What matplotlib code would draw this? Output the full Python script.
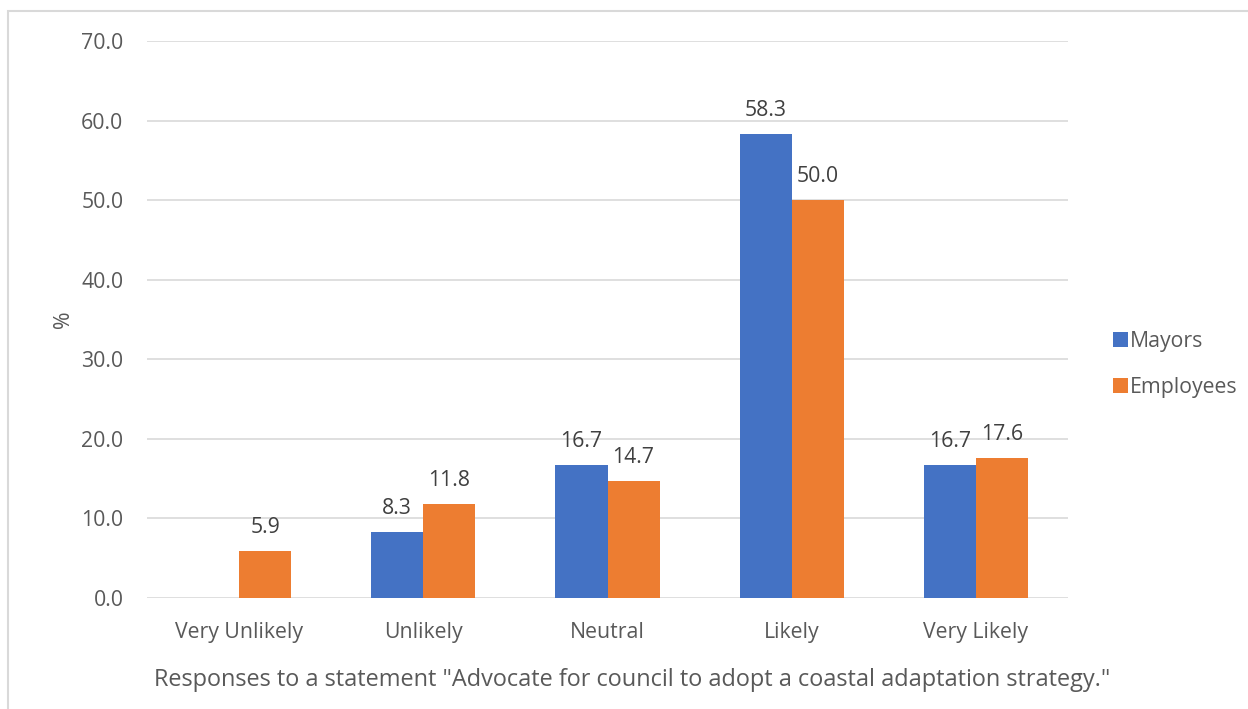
import matplotlib.pyplot as plt
import numpy as np
from matplotlib.patches import Rectangle

# response categories and the share (%) of each group
categories = ["Very Unlikely", "Unlikely", "Neutral", "Likely", "Very Likely"]
mayors = [0.0, 8.3, 16.7, 58.3, 16.7]
employees = [5.9, 11.8, 14.7, 50.0, 17.6]

plt.rcParams['font.family'] = ['Open Sans', 'DejaVu Sans']
text_col = "#595959"
label_col = "#404040"
fs = 15.3

fig = plt.figure(figsize=(12.48, 7.09), dpi=100)
ax = fig.add_axes([0.1178, 0.1566, 0.7380, 0.7856])

x = np.arange(len(categories))
w = 0.283
b1 = ax.bar(x - w / 2, mayors, w, color="#4472C4", label="Mayors", zorder=3)
b2 = ax.bar(x + w / 2, employees, w, color="#ED7D31", label="Employees", zorder=3)

# value labels above bars (skip empty bars)
for bars, vals in ((b1, mayors), (b2, employees)):
    for bar, v in zip(bars, vals):
        if v == 0:
            continue
        ax.annotate(f"{v:.1f}", (bar.get_x() + bar.get_width() / 2, v),
                    xytext=(0, 13), textcoords="offset points",
                    ha="center", va="baseline", fontsize=fs, color=label_col)

ax.set_xlim(-0.5, len(categories) - 0.5)
ax.set_ylim(0, 70)
ax.set_yticks(np.arange(0, 71, 10))
ax.set_yticklabels([f"{t:.1f}" for t in np.arange(0, 71, 10)])
ax.set_xticks(x)
ax.set_xticklabels(categories)
ax.tick_params(axis="both", length=0, labelsize=fs, labelcolor=text_col)
ax.tick_params(axis="y", pad=17)
ax.tick_params(axis="x", pad=17)
ax.grid(axis="y", color="#D9D9D9", linewidth=1.2, zorder=0)
for s in ax.spines.values():
    s.set_visible(False)

ax.set_ylabel("%", fontsize=fs, color=text_col, labelpad=5)
ax.set_xlabel('Responses to a statement "Advocate for council to adopt a coastal adaptation strategy."',
              fontsize=16.9, color=text_col)
ax.xaxis.set_label_coords(0.5266, -0.125)

fig.legend(loc="center left", bbox_to_anchor=(0.892, 0.486), frameon=False,
           fontsize=fs, labelcolor=text_col, handlelength=0.7, handleheight=0.7,
           handletextpad=0.1, labelspacing=1.15, borderpad=0, borderaxespad=0)

# chart frame
fig.patches.append(Rectangle((8 / 1248, -0.1), 1.2, 1.1 - 11 / 709,
                             transform=fig.transFigure, fill=False,
                             edgecolor="#D9D9D9", linewidth=1.5))

fig.savefig("out.png", dpi=100)
